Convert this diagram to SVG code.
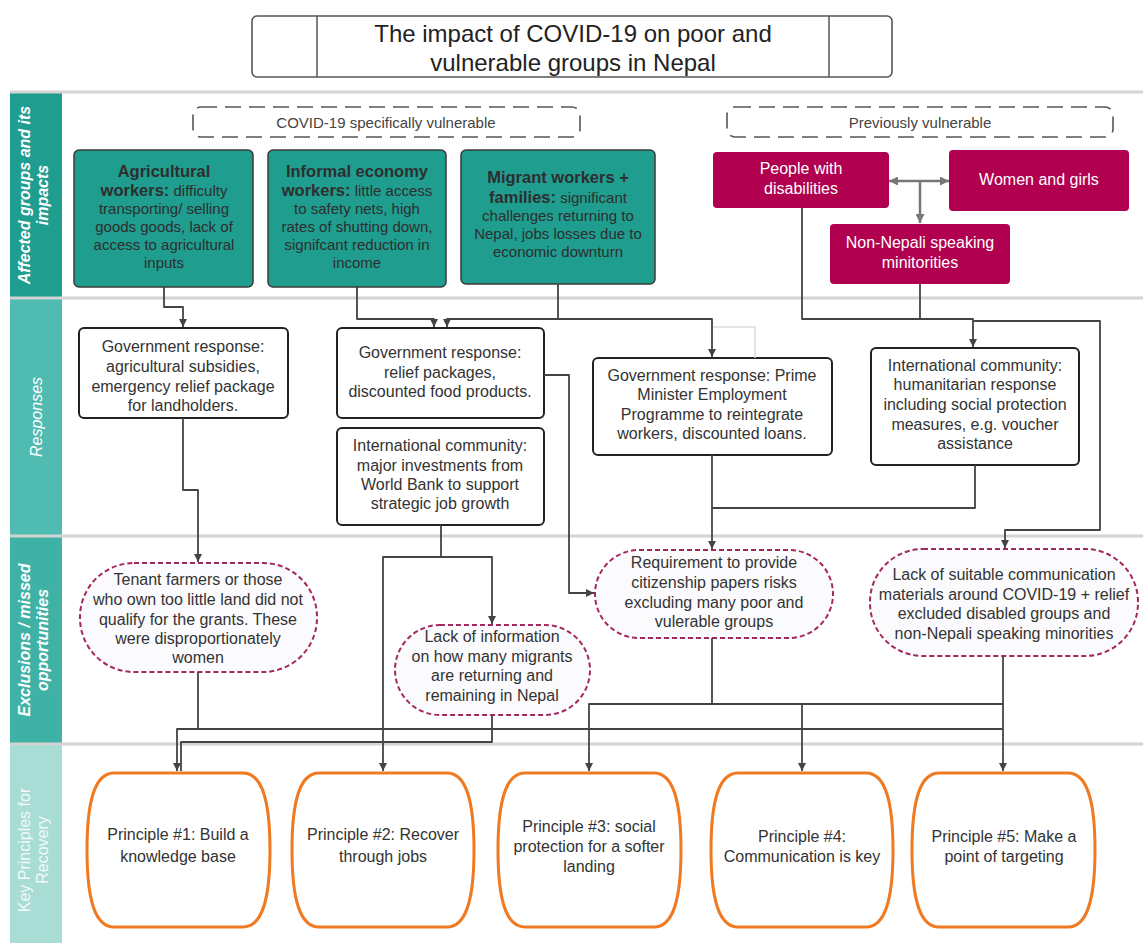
<svg xmlns="http://www.w3.org/2000/svg" width="1143" height="943" viewBox="0 0 1143 943">
<style>
text{font-family:"Liberation Sans",Arial,sans-serif;text-anchor:middle}
.t16{font-size:16px;fill:#333}
.tb{font-size:15px;fill:#2e2e2e}
.bold{font-weight:bold;font-size:16.5px}
.wh{font-size:16px;fill:#fff}
.lane{font-size:16px;fill:#fff;font-style:italic}
.sep{stroke:#d4d4d4;stroke-width:3}
.teal{fill:#1f9d8f;stroke:#3a3a3a;stroke-width:1.5}
.mag{fill:#b0004f}
.resp{fill:#fff;stroke:#222;stroke-width:2}
.excl{fill:#fbfbfd;stroke:#a3285e;stroke-width:2;stroke-dasharray:5 3}
.prin{fill:#fff;stroke:#f07a22;stroke-width:3}
.dash{fill:#fff;stroke:#555;stroke-width:1.6;stroke-dasharray:16 8}
.c{fill:none;stroke:#444;stroke-width:1.8;stroke-linejoin:round}
</style>
<defs>
<marker id="ah" viewBox="0 0 10 10" refX="10" refY="5" markerWidth="9" markerHeight="8" markerUnits="userSpaceOnUse" orient="auto"><path d="M0,0 L10,5 L0,10 z" fill="#444"/></marker>
<marker id="ahg" viewBox="0 0 10 10" refX="10" refY="5" markerWidth="10" markerHeight="9" markerUnits="userSpaceOnUse" orient="auto-start-reverse"><path d="M0,0 L10,5 L0,10 z" fill="#777"/></marker>
</defs>
<rect width="1143" height="943" fill="#fff"/>

<g id="title">
<rect x="252" y="16" width="640" height="61" rx="5" fill="#fff" stroke="#555" stroke-width="1.6"/>
<line x1="317" y1="16" x2="317" y2="77" stroke="#555" stroke-width="1.5"/>
<line x1="829" y1="16" x2="829" y2="77" stroke="#555" stroke-width="1.5"/>
<text x="573" y="42" style="font-size:24px;fill:#222">The impact of COVID-19 on poor and</text>
<text x="573" y="71" style="font-size:24px;fill:#222">vulnerable groups in Nepal</text>
</g>

<g id="lanes">
<rect x="10" y="92" width="52" height="206" fill="#1f9d8f"/>
<rect x="10" y="298" width="52" height="238" fill="#50bbb0"/>
<rect x="10" y="536" width="52" height="208" fill="#3fb2a5"/>
<rect x="10" y="744" width="52" height="199" fill="#a8ddd6"/>
<line class="sep" x1="10" y1="92" x2="1143" y2="92"/>
<line class="sep" x1="10" y1="298" x2="1143" y2="298"/>
<line class="sep" x1="10" y1="536" x2="1143" y2="536"/>
<line class="sep" x1="10" y1="744" x2="1143" y2="744"/>
<text class="lane" style="font-weight:bold" transform="translate(30,195) rotate(-90)">Affected groups and its</text>
<text class="lane" style="font-weight:bold" transform="translate(48,195) rotate(-90)">impacts</text>
<text class="lane" transform="translate(42,417) rotate(-90)">Responses</text>
<text class="lane" style="font-weight:bold" transform="translate(30,640) rotate(-90)">Exclusions / missed</text>
<text class="lane" style="font-weight:bold" transform="translate(48,640) rotate(-90)">opportunities</text>
<text style="font-size:16px;fill:#fff;opacity:0.85" transform="translate(30,850) rotate(-90)">Key Principles for</text>
<text style="font-size:16px;fill:#fff;opacity:0.85" transform="translate(48,850) rotate(-90)">Recovery</text>
</g>

<g id="hdr-covid">
<rect class="dash" x="193" y="107" width="387" height="30" rx="8"/>
<text x="386" y="128" style="font-size:15px;fill:#444">COVID-19 specifically vulnerable</text>
</g>
<g id="hdr-prev">
<rect class="dash" x="727" y="107" width="386" height="30" rx="8"/>
<text x="920" y="128" style="font-size:15px;fill:#444">Previously vulnerable</text>
</g>

<g id="n-agri">
<rect class="teal" x="74" y="150" width="179" height="137" rx="5"/>
<text class="tb" x="164" y="177"><tspan class="bold">Agricultural</tspan></text>
<text class="tb" x="164" y="196"><tspan class="bold">workers:</tspan> difficulty</text>
<text class="tb" x="164" y="214">transporting/ selling</text>
<text class="tb" x="164" y="232">goods goods, lack of</text>
<text class="tb" x="164" y="250">access to agricultural</text>
<text class="tb" x="164" y="268">inputs</text>
</g>
<g id="n-informal">
<rect class="teal" x="268" y="150" width="178" height="137" rx="5"/>
<text class="tb" x="357" y="177"><tspan class="bold">Informal economy</tspan></text>
<text class="tb" x="357" y="196"><tspan class="bold">workers:</tspan> little access</text>
<text class="tb" x="357" y="214">to safety nets, high</text>
<text class="tb" x="357" y="232">rates of shutting down,</text>
<text class="tb" x="357" y="250">signifcant reduction in</text>
<text class="tb" x="357" y="268">income</text>
</g>
<g id="n-migrant">
<rect class="teal" x="461" y="150" width="194" height="134" rx="5"/>
<text class="tb" x="558" y="183"><tspan class="bold">Migrant workers +</tspan></text>
<text class="tb" x="558" y="203"><tspan class="bold">families:</tspan> significant</text>
<text class="tb" x="558" y="221">challenges returning to</text>
<text class="tb" x="558" y="239">Nepal, jobs losses due to</text>
<text class="tb" x="558" y="257">economic downturn</text>
</g>
<g id="n-disab">
<rect class="mag" x="713" y="152" width="176" height="56" rx="4"/>
<text class="wh" x="801" y="174">People with</text>
<text class="wh" x="801" y="194">disabilities</text>
</g>
<g id="n-women">
<rect class="mag" x="949" y="150" width="180" height="61" rx="4"/>
<text class="wh" x="1039" y="185">Women and girls</text>
</g>
<g id="n-nonnepali">
<rect class="mag" x="830" y="224" width="180" height="60" rx="4"/>
<text class="wh" x="920" y="248">Non-Nepali speaking</text>
<text class="wh" x="920" y="268">minitorities</text>
</g>

<g id="r-agri">
<rect class="resp" x="79" y="328" width="209" height="90" rx="5"/>
<text class="t16" x="183" y="352">Government response:</text>
<text class="t16" x="183" y="372">agricultural subsidies,</text>
<text class="t16" x="183" y="392">emergency relief package</text>
<text class="t16" x="183" y="411">for landholders.</text>
</g>
<g id="r-relief">
<rect class="resp" x="337" y="328" width="207" height="90" rx="5"/>
<text class="t16" x="440" y="358">Government response:</text>
<text class="t16" x="440" y="378">relief packages,</text>
<text class="t16" x="440" y="397">discounted food products.</text>
</g>
<g id="r-worldbank">
<rect class="resp" x="337" y="428" width="207" height="97" rx="5"/>
<text class="t16" x="440" y="451">International community:</text>
<text class="t16" x="440" y="471">major investments from</text>
<text class="t16" x="440" y="490">World Bank to support</text>
<text class="t16" x="440" y="509">strategic job growth</text>
</g>
<g id="r-pm">
<rect class="resp" x="593" y="358" width="239" height="97" rx="5"/>
<text class="t16" x="712" y="381">Government response: Prime</text>
<text class="t16" x="712" y="400">Minister Employment</text>
<text class="t16" x="712" y="420">Programme to reintegrate</text>
<text class="t16" x="712" y="439">workers, discounted loans.</text>
</g>
<g id="r-humanitarian">
<rect class="resp" x="871" y="348" width="208" height="117" rx="5"/>
<text class="t16" x="975" y="371">International community:</text>
<text class="t16" x="975" y="390">humanitarian response</text>
<text class="t16" x="975" y="410">including social protection</text>
<text class="t16" x="975" y="430">measures, e.g. voucher</text>
<text class="t16" x="975" y="449">assistance</text>
</g>

<g id="e-tenant">
<rect class="excl" x="80" y="563" width="237" height="109" rx="54"/>
<text class="t16" x="198" y="585">Tenant farmers or those</text>
<text class="t16" x="198" y="605">who own too little land did not</text>
<text class="t16" x="198" y="625">qualify for the grants. These</text>
<text class="t16" x="198" y="644">were disproportionately</text>
<text class="t16" x="198" y="663">women</text>
</g>
<g id="e-info">
<rect class="excl" x="395" y="625" width="195" height="90" rx="45"/>
<text class="t16" x="492" y="642">Lack of information</text>
<text class="t16" x="492" y="662">on how many migrants</text>
<text class="t16" x="492" y="681">are returning and</text>
<text class="t16" x="492" y="701">remaining in Nepal</text>
</g>
<g id="e-citizen">
<rect class="excl" x="595" y="550" width="238" height="88" rx="44"/>
<text class="t16" x="714" y="568">Requirement to provide</text>
<text class="t16" x="714" y="588">citizenship papers risks</text>
<text class="t16" x="714" y="608">excluding many poor and</text>
<text class="t16" x="714" y="627">vulerable groups</text>
</g>
<g id="e-comm">
<rect class="excl" x="870" y="549" width="268" height="107" rx="53"/>
<text class="t16" x="1004" y="580">Lack of suitable communication</text>
<text class="t16" x="1004" y="600">materials around COVID-19 + relief</text>
<text class="t16" x="1004" y="619">excluded disabled groups and</text>
<text class="t16" x="1004" y="639">non-Nepali speaking minorities</text>
</g>

<g id="p1">
<path class="prin" d="M114,773 H243 C262,773 270,800 270,850 C270,900 262,927 243,927 H114 C95,927 87,900 87,850 C87,800 95,773 114,773 Z"/>
<text class="t16" x="178" y="840">Principle #1: Build a</text>
<text class="t16" x="178" y="862">knowledge base</text>
</g>
<g id="p2">
<path class="prin" d="M319,773 H447 C466,773 474,800 474,850 C474,900 466,927 447,927 H319 C300,927 292,900 292,850 C292,800 300,773 319,773 Z"/>
<text class="t16" x="383" y="840">Principle #2: Recover</text>
<text class="t16" x="383" y="862">through jobs</text>
</g>
<g id="p3">
<path class="prin" d="M525,773 H654 C673,773 681,800 681,850 C681,900 673,927 654,927 H525 C506,927 498,900 498,850 C498,800 506,773 525,773 Z"/>
<text class="t16" x="589" y="832">Principle #3: social</text>
<text class="t16" x="589" y="852">protection for a softer</text>
<text class="t16" x="589" y="872">landing</text>
</g>
<g id="p4">
<path class="prin" d="M738,773 H866 C885,773 893,800 893,850 C893,900 885,927 866,927 H738 C719,927 711,900 711,850 C711,800 719,773 738,773 Z"/>
<text class="t16" x="802" y="842">Principle #4:</text>
<text class="t16" x="802" y="862">Communication is key</text>
</g>
<g id="p5">
<path class="prin" d="M939,773 H1068 C1087,773 1095,800 1095,850 C1095,900 1087,927 1068,927 H939 C920,927 912,900 912,850 C912,800 920,773 939,773 Z"/>
<text class="t16" x="1004" y="842">Principle #5: Make a</text>
<text class="t16" x="1004" y="862">point of targeting</text>
</g>

<g id="connectors">
<path d="M889,181 H949" fill="none" stroke="#777" stroke-width="2.5" marker-start="url(#ahg)" marker-end="url(#ahg)"/>
<path d="M920,181 V223" fill="none" stroke="#777" stroke-width="2.5" marker-end="url(#ahg)"/>
<path class="c" d="M164,287 V307 H183 V327" marker-end="url(#ah)"/>
<path class="c" d="M357,287 V319 H434 V327" marker-end="url(#ah)"/>
<path class="c" d="M558,284 V319 H447 V327" marker-end="url(#ah)"/>
<path class="c" d="M558,319 H712 V357" marker-end="url(#ah)"/>
<path class="c" d="M802,208 V319 H973 V347" marker-end="url(#ah)"/>
<path class="c" d="M920,284 V319"/>
<path class="c" d="M973,321 H1100 V530 H1005 V548" marker-end="url(#ah)"/>
<path d="M713,327 H755 V358" fill="none" stroke="#ddd" stroke-width="1.5"/>
<path class="c" d="M183,418 V490 H198 V562" marker-end="url(#ah)"/>
<path class="c" d="M544,375 H569 V593 H594" marker-end="url(#ah)"/>
<path class="c" d="M441,525 V557 H383 V771" marker-end="url(#ah)"/>
<path class="c" d="M441,557 H492 V624" marker-end="url(#ah)"/>
<path class="c" d="M712,455 V549" marker-end="url(#ah)"/>
<path class="c" d="M975,465 V508 H712"/>
<path class="c" d="M198,672 V729 H1003"/>
<path class="c" d="M198,729 H177 V771" marker-end="url(#ah)"/>
<path class="c" d="M492,715 V742 H181 V771"/>
<path class="c" d="M712,638 V704 H589 V771" marker-end="url(#ah)"/>
<path class="c" d="M712,704 H1003"/>
<path class="c" d="M1003,656 V771" marker-end="url(#ah)"/>
<path class="c" d="M802,704 V771" marker-end="url(#ah)"/>
</g>
</svg>
